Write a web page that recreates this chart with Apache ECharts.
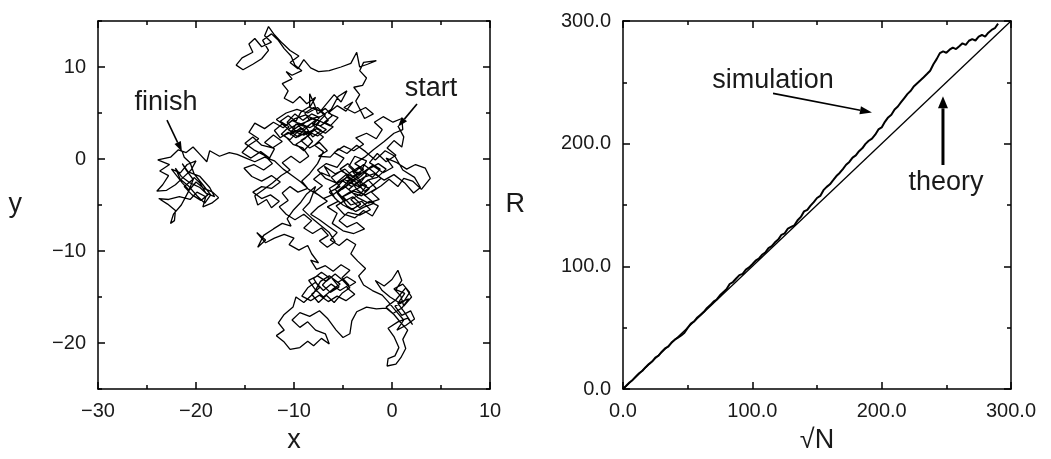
<!DOCTYPE html>
<html>
<head>
<meta charset="utf-8">
<script src="https://cdn.jsdelivr.net/npm/echarts@6/dist/echarts.min.js"></script>
<style>
  html, body { margin: 0; padding: 0; background: #fff; }
  #chart { width: 1051px; height: 459px; }
</style>
</head>
<body>
<div id="chart"></div>
<script>
// left panel: the walk
const walk = [
  // start, right-hand cluster
  [0.6,3.6],[1.2,2.4],[1.0,1.3],[0.2,2.0],[-0.5,1.2],[0.4,0.4],[-0.6,-0.3],[-1.5,0.6],[-2.3,-0.4],[-1.2,-1.1],[-2.0,-2.0],[-3.1,-1.2],[-2.6,-0.2],[-3.8,0.3],[-4.4,-0.8],[-3.5,-1.7],[-4.6,-2.4],[-3.4,-3.0],[-2.4,-2.3],[-1.6,-3.2],[-2.7,-3.9],[-3.9,-3.5],[-5.0,-4.1],[-4.2,-5.0],[-3.1,-4.6],[-2.2,-5.5],[-3.3,-6.1],[-4.5,-5.8],[-5.4,-6.7],[-4.6,-7.4],[-3.6,-6.9],[-2.8,-7.6],[-3.9,-8.1],[-5.0,-7.8],[-6.1,-7.0],[-5.6,-5.9],[-6.6,-5.2],[-5.5,-4.6],[-6.4,-3.6],[-5.3,-3.0],[-6.2,-2.0],[-5.2,-1.3],[-4.1,-1.9],[-3.0,-1.5],
  [-4.0,-1.4],[-3.2,-2.4],[-4.1,-3.0],[-5.0,-2.4],[-4.3,-1.5],[-3.4,-0.9],[-2.6,-1.7],[-3.3,-2.7],[-2.3,-3.2],[-3.1,-4.0],[-4.0,-3.7],[-4.8,-3.0],[-5.6,-3.7],[-4.9,-4.6],[-4.0,-4.1],[-3.2,-4.9],[-4.1,-5.5],[-5.0,-5.0],[-5.8,-4.3],[-6.4,-3.2],[-5.5,-2.6],[-4.6,-2.0],[-3.7,-2.5],[-2.8,-3.5],[-1.9,-2.8],[-1.1,-2.1],[-2.0,-1.3],[-2.9,-0.6],[-3.7,-1.3],[-4.5,-0.5],[-5.3,-1.1],[-4.5,-1.8],[-3.6,-3.3],[-2.6,-4.1],[-1.8,-4.8],[-2.8,-5.2],[-3.7,-5.7],[-4.6,-5.1],[-5.2,-4.2],[-4.3,-3.6],[-3.3,-3.1],[-2.5,-2.3],[-1.5,-2.0],[-0.6,-1.1],[-1.4,-0.5],[-2.4,-1.1],[-3.2,-1.9],[-4.2,-2.6],[-5.1,-3.3],[-4.1,-2.4],[-3.0,-1.5],
  [-2.0,-0.7],[-0.9,-1.5],[0.1,-0.9],[-0.6,0.1],[0.5,-0.4],[1.5,-1.1],[2.4,-0.6],[3.4,-1.0],[3.9,-2.1],[3.0,-3.3],[2.1,-2.4],[1.2,-2.1],[0.6,-3.0],[-0.3,-2.2],[-1.1,-2.9],[-2.1,-3.6],[-1.3,-4.4],[-2.4,-4.8],[-3.5,-4.2],[-4.4,-3.3],[-3.6,-2.6],[-4.7,-1.7],[-5.7,-2.6],[-6.8,-2.1],[-7.6,-1.2],[-6.7,-0.5],[-5.6,-0.9],[-4.9,0.1],[-5.9,0.7],[-4.9,1.4],[-3.9,0.9],[-2.9,1.6],[-3.7,2.3],[-2.6,2.8],[-1.6,2.2],[-1.0,3.2],[-1.8,4.0],[-0.9,4.6],[0.1,4.0],[1.0,4.4],[1.1,3.2],[0.2,2.8],[-0.8,1.9],[-1.9,1.0],[-2.8,0.2],[-3.8,-0.5],[-2.9,-1.1],[-3.9,-1.9],[-4.9,-2.9],[-5.9,-3.8],[-7.0,-4.3],[-7.9,-3.6],[-7.1,-2.9],[-8.0,-2.2],[-7.2,-1.5],[-6.3,-1.9],[-6.9,-0.8],
  [-5.8,-1.6],[-4.8,-1.1],[-3.7,-2.2],[-2.6,-2.9],[-3.2,-3.8],[-4.2,-4.4],[-3.3,-5.3],[-2.3,-4.6],[-1.4,-5.1],[-2.0,-6.2],[-2.9,-5.6],[-3.8,-6.4],[-4.9,-6.0],[-5.7,-5.1],[-4.8,-4.5],[-5.8,-3.3],[-4.9,-2.2],[-3.9,-2.8],[-2.9,-2.0],[-1.8,-1.6],[-0.8,-2.3],[0.2,-1.7],[1.3,-2.6],[2.2,-3.7],[2.9,-3.1],[2.3,-2.0],[1.1,-1.2],[0.3,0.3],[-0.7,0.9],[-1.7,-0.1],[-2.7,0.8],[-3.6,1.5],[-4.6,0.6],[-5.5,1.1],[-6.3,0.2],
  // central cluster
  [-7.5,0.3],[-6.6,0.9],[-7.4,1.8],[-8.4,1.2],[-9.3,2.0],[-8.3,2.7],[-9.4,3.3],[-10.4,2.6],[-9.8,3.8],[-8.7,3.5],[-7.8,4.2],[-8.8,4.8],[-9.9,4.4],[-10.9,3.6],[-11.8,4.3],[-10.8,5.0],[-9.7,5.4],[-8.6,5.0],[-7.6,5.6],[-6.8,4.8],[-7.7,3.8],[-6.7,3.2],[-7.6,2.5],[-8.6,3.0],[-9.6,2.4],[-10.6,3.2],[-9.5,3.9],[-8.4,3.4],[-7.4,4.0],
  [-8.2,3.0],[-8.9,2.2],[-9.8,1.6],[-9.0,0.9],[-8.1,1.9],[-8.9,2.9],[-9.9,3.1],[-10.7,4.0],[-9.9,4.9],[-9.1,4.2],[-8.2,4.9],[-7.4,4.5],[-8.1,3.7],[-7.2,3.1],[-8.1,2.4],[-8.8,3.5],[-9.7,2.9],[-10.4,2.1],[-11.3,2.7],[-10.5,3.5],[-11.4,4.1],[-10.6,4.7],[-9.8,4.1],[-9.3,5.1],[-8.4,5.7],[-8.4,7.1],[-7.9,5.9],[-7.6,4.9],[-6.8,5.5],[-6.1,4.7],[-6.9,4.0],[-6.0,3.5],[-6.8,2.8],[-7.7,3.3],[-8.5,2.7],[-9.5,3.6],[-10.3,3.0],[-11.2,3.8],[-12.0,3.1],[-11.4,2.3],[-10.6,2.9],[-9.8,2.3],[-9.0,3.1],[-8.2,3.9],[-7.3,3.6],[-6.5,4.2],[-7.2,5.1],[-8.0,5.6],[-8.9,5.0],[-8.4,4.2],[-9.3,3.8],[-8.0,4.4],[-6.9,3.9],[-6.3,3.6],
  [-5.5,4.5],[-6.5,5.0],[-5.6,5.8],[-4.7,5.2],[-4.0,6.2],[-4.9,5.6],[-3.8,5.0],[-2.7,5.6],[-1.9,4.9],[-2.8,4.4],[-3.7,6.3],
  // up to the top
  [-3.3,7.0],[-3.9,7.8],[-3.0,8.0],[-2.6,8.8],[-3.3,9.6],[-2.9,10.5],[-1.6,10.7],[-2.5,10.3],[-3.3,10.0],[-3.6,11.6],[-4.2,10.4],[-5.2,10.0],[-6.4,9.6],[-7.5,9.5],[-8.3,9.9],[-9.0,10.8],[-9.6,9.8],[-10.4,10.5],[-9.5,11.2],[-10.4,11.8],[-11.2,12.6],[-12.0,13.5],[-12.6,14.4],[-13.0,13.4],[-12.3,12.7],[-13.3,12.2],[-14.0,13.1],[-14.6,12.5],[-14.2,11.6],[-15.3,11.0],[-15.9,10.2],[-15.2,9.7],[-14.2,10.3],[-13.3,10.9],[-12.6,11.8],[-13.2,12.9],[-12.3,13.6],[-11.6,12.9],[-11.0,12.0],[-10.3,11.2],[-9.9,10.2],[-9.2,9.6],[-10.2,9.1],[-10.8,9.5],[-10.2,8.7],[-11.2,8.2],[-10.6,7.4],[-11.0,6.6],[-10.1,6.1],[-9.4,6.8],[-8.7,6.0],[-7.8,6.7],[-8.4,5.6],[-7.3,5.2],[-6.6,6.1],[-5.9,7.0],[-5.2,6.2],[-4.6,7.4],[-5.5,6.8],[-6.2,5.4],
  // middle and left-middle
  [-7.3,4.6],[-8.3,4.4],[-9.2,3.7],[-10.2,4.2],[-11.1,3.4],[-12.1,4.0],[-13.0,3.3],[-14.0,3.9],[-14.6,2.9],[-13.6,2.2],[-14.6,1.5],[-15.3,0.7],[-14.4,0.1],[-13.4,0.8],[-12.5,0.1],[-12.0,1.1],[-13.0,1.8],[-12.1,2.6],[-11.2,1.9],[-12.2,1.2],[-13.3,1.5],[-14.2,2.4],[-15.0,1.7],[-14.1,1.0],[-13.0,0.4],[-12.2,-0.5],[-13.1,-1.2],[-14.1,-0.6],[-15.1,-1.0],[-14.3,-1.9],[-13.3,-2.4],[-12.3,-1.8],[-11.4,-2.5],[-12.3,-3.2],[-13.3,-3.0],[-14.2,-3.6],[-13.3,-4.3],[-12.4,-3.9],[-11.5,-4.6],[-12.3,-5.3],[-12.8,-4.4],[-13.7,-5.0],[-14.0,-4.0],[-13.2,-3.4],[-12.2,-2.6],[-11.3,-1.8],[-10.4,-1.2],[-11.2,-0.4],[-10.3,0.3],[-9.4,-0.4],[-8.5,0.3],[-9.1,1.2],[-10.1,1.6],[-11.0,2.6],[-10.0,3.0],[-9.0,2.6],[-8.0,3.2],[-7.0,2.4],[-7.9,1.5],[-7.0,0.8],[-7.6,-0.5],
  // heading down
  [-8.4,-1.6],[-9.2,-2.4],[-8.6,-3.2],[-9.6,-3.6],[-10.4,-3.0],[-11.2,-3.7],[-10.6,-4.5],[-11.5,-5.2],[-10.8,-6.0],[-9.9,-6.6],[-9.0,-6.0],[-8.2,-6.7],[-9.0,-7.5],[-8.1,-8.1],[-7.2,-7.5],[-6.5,-8.3],[-7.4,-8.9],[-6.6,-9.6],[-5.8,-9.0],[-6.4,-8.0],[-7.3,-7.2],[-8.2,-6.4],[-9.1,-5.5],[-8.4,-4.7],
  [-7.8,-3.0],[-8.7,-3.8],[-9.3,-4.7],[-10.1,-5.6],[-10.7,-6.5],[-10.3,-7.3],[-11.2,-7.0],[-12.1,-7.6],[-13.1,-8.3],[-13.7,-9.6],[-12.9,-8.8],[-13.8,-8.0],[-12.9,-9.1],[-12.0,-8.6],[-11.0,-8.2],[-10.0,-8.6],[-10.5,-9.3],[-9.5,-9.9],[-8.6,-9.4],[-8.2,-10.3],[-7.5,-11.3],[-8.3,-11.0],[-7.7,-12.0],[-6.8,-11.6],[-6.0,-12.2],[-5.2,-11.5],[-4.3,-12.1],[-5.1,-12.9],[-4.4,-13.7],[-5.3,-14.3],[-6.2,-13.6],[-7.0,-14.3],[-7.8,-13.4],[-8.6,-14.0],[-9.2,-14.9],[-8.3,-15.4],[-7.4,-14.8],[-6.5,-15.5],[-5.6,-14.9],[-4.7,-15.4],[-3.8,-14.7],[-4.6,-14.0],[-3.7,-13.4],[-4.6,-12.8],[-5.5,-13.4],
  [-6.1,-13.0],[-5.4,-13.9],[-6.3,-14.5],[-7.1,-13.7],[-6.4,-12.9],[-7.2,-12.3],[-8.0,-13.0],[-7.4,-14.0],[-8.2,-14.7],[-7.5,-15.6],[-6.7,-14.8],[-5.9,-15.6],[-5.1,-14.6],[-4.3,-14.0],[-5.0,-13.2],[-5.8,-12.5],[-6.7,-13.3],[-7.6,-12.7],[-8.5,-13.2],[-7.9,-14.1],[-7.0,-15.0],[-6.1,-14.2],[-5.3,-13.6],
  [-6.4,-12.7],[-7.3,-13.3],[-8.0,-14.6],[-9.0,-15.6],[-9.8,-15.0],[-10.1,-16.1],[-11.0,-16.9],[-11.6,-17.8],[-11.0,-18.6],[-11.8,-19.2],[-11.0,-19.9],[-10.4,-20.7],[-9.4,-20.5],[-8.6,-19.8],[-8.0,-20.3],[-7.2,-19.5],[-6.4,-20.1],[-6.8,-19.0],[-7.8,-18.6],[-8.6,-17.7],[-9.4,-18.3],[-10.2,-17.5],[-9.4,-16.7],[-8.4,-17.1],[-7.4,-16.5],[-6.6,-17.3],[-5.7,-18.6],[-5.0,-19.4],[-4.3,-19.0],[-4.1,-17.6],[-3.6,-16.6],[-2.6,-16.1],[-1.6,-16.3],[-0.6,-16.2],[0.2,-16.9],[0.9,-17.8],[1.6,-18.6],[1.1,-19.6],[1.4,-20.6],[0.9,-21.6],[0.4,-22.3],[-0.5,-22.5],[-0.4,-21.7],[0.3,-21.4],
  // lower right
  [0.7,-20.5],[0.2,-19.3],[-0.4,-18.4],[0.6,-17.7],[1.6,-17.3],[2.1,-18.0],[1.3,-16.7],[0.6,-15.7],[1.3,-14.6],[0.4,-14.2],[1.0,-13.2],[0.6,-12.1],[0.0,-13.1],[-0.8,-13.8],[-1.7,-13.2],[-1.0,-14.3],[-0.2,-15.0],[0.7,-15.6],[1.7,-15.2],[1.0,-16.2],[0.1,-16.8],[-0.6,-16.1],[0.4,-15.3],[1.4,-14.0],[2.0,-15.0],[1.2,-16.0],
  [0.9,-14.9],[0.2,-14.1],[1.1,-13.6],[1.8,-14.5],[1.2,-15.5],[0.3,-16.0],[1.0,-17.0],[1.9,-16.5],[2.3,-17.4],[1.4,-18.1],[0.5,-18.6],[1.2,-17.5],[0.3,-16.4],[-0.4,-15.5],
  // back to the centre and off to the left
  [-1.0,-14.8],[-2.0,-14.3],[-2.9,-13.7],[-3.4,-12.7],[-2.7,-11.9],[-3.5,-11.1],[-4.2,-10.3],[-3.7,-9.3],[-4.6,-8.7],[-5.4,-9.4],[-6.3,-8.8],[-5.6,-8.0],[-6.5,-7.3],[-7.4,-6.6],[-8.3,-6.0],[-7.5,-5.2],[-6.6,-4.6],[-7.5,-3.9],[-8.5,-3.3],[-9.3,-2.5],[-10.2,-1.8],[-11.1,-1.1],[-12.0,-0.2],[-13.0,0.2],[-14.0,-0.3],[-14.9,0.1],[-15.8,0.5],
  // finish cluster
  [-16.6,0.7],[-17.6,0.3],[-18.6,0.9],[-18.9,-0.3],[-19.6,0.5],[-20.3,1.3],[-21.0,0.7],[-21.8,1.0],[-22.6,0.2],[-23.9,-0.1],[-22.7,-0.6],[-23.7,-1.3],[-22.8,-1.8],[-23.4,-2.8],[-24.0,-3.5],[-23.0,-3.4],[-22.1,-2.8],[-21.3,-2.0],[-20.5,-1.2],[-20.0,-0.2],[-20.9,-0.6],[-21.6,-1.5],[-22.5,-1.1],[-21.4,-2.6],[-20.7,-3.4],[-20.0,-2.5],[-19.2,-3.2],[-18.3,-3.6],[-17.7,-4.2],[-18.4,-4.8],[-19.3,-5.2],[-19.0,-4.1],[-19.9,-3.6],[-20.6,-4.4],[-21.7,-4.1],[-22.8,-4.4],[-23.8,-4.3],[-22.9,-4.9],[-22.1,-5.6],[-22.2,-6.7],[-22.6,-7.0],[-22.3,-6.0],[-21.5,-5.0],[-20.8,-3.6],[-20.2,-2.0],[-19.6,-2.6],[-19.0,-3.7],[-18.1,-4.1],[-18.6,-3.1],[-19.6,-1.9],[-20.8,-1.4],[-21.4,-0.5],
  [-21.0,-1.2],[-20.3,-2.2],[-21.2,-3.0],[-20.4,-3.9],[-19.5,-4.5],[-18.8,-3.9],[-19.6,-3.1],[-20.6,-2.6],[-21.5,-1.9],[-22.1,-1.0],[-21.6,-2.2],[-20.8,-2.9],[-19.9,-4.0],[-19.1,-4.8],[-18.5,-3.9],[-19.3,-2.8],[-20.2,-1.6],[-20.6,-0.4],[-21.2,0.2],[-21.4,0.8]
]

// right panel
const simN = [0,2.5,5,7.5,10,12.5,15,17.5,20,22.5,25,27.5,30,32.5,35,37.5,40,42.5,45,47.5,50,52.5,55,57.5,60,62.5,65,67.5,70,72.5,75,77.5,80,82.5,85,87.5,90,92.5,95,97.5,100,102.5,105,107.5,110,112.5,115,117.5,120,122.5,125,127.5,130,132.5,135,137.5,140,142.5,145,147.5,150,152.5,155,157.5,160,162.5,165,167.5,170,172.5,175,177.5,180,182.5,185,187.5,190,192.5,195,197.5,200,202.5,205,207.5,210,212.5,215,217.5,220,222.5,225,227.5,230,232.5,235,237.5,240,242.5,245,247.5,250,252.5,255,257.5,260,262.5,265,267.5,270,272.5,275,277.5,280,282.5,285,287.5,290]
const simR = [0,2.6,5.3,7.4,10.2,12.8,14.9,17.8,20.3,22.4,25.6,27.2,30.4,33.1,34.6,37.9,40.2,41.8,43.6,45.9,49.8,53.4,55.1,58.3,60.6,62.9,66.1,68.4,71.2,73.0,76.4,78.9,81.3,85.6,87.2,90.1,92.8,93.9,97.3,99.1,101.8,104.6,106.2,109.4,111.3,114.9,116.4,119.6,121.8,125.7,126.9,130.8,132.1,133.4,137.6,140.3,144.8,146.1,149.5,152.3,155.7,157.4,162.1,164.8,166.9,170.2,173.6,176.1,179.3,182.8,185.1,188.6,190.4,193.9,196.2,199.8,202.4,204.1,207.3,211.6,213.2,217.8,221.4,223.6,227.9,230.3,233.8,237.2,240.6,243.1,246.9,249.3,251.7,254.2,256.8,259.5,264.7,268.9,273.8,275.2,274.1,276.6,278.3,277.1,279.4,281.8,280.6,283.9,285.2,284.1,287.3,288.6,287.2,290.5,292.7,294.1,297.8]
const theoryN = [0, 300]
const theoryR = [0, 300]

const majorY = [-20, -10, 0, 10]
const minorY = [-25, -15, -5, 5, 15]

const font = 'Liberation Sans'
const ink = '#1a1a1a'

const chart = echarts.init(document.getElementById('chart'))

const lineStyle = { color: '#000', width: 1.5 }

// build one axis; mirrored axes on top/right only carry ticks
const axis = (grid, pos, min, max, extra) => Object.assign({
  type: 'value',
  gridIndex: grid,
  position: pos,
  min: min,
  max: max,
  splitLine: { show: false },
  axisLine: { show: true, onZero: false, lineStyle: lineStyle },
  axisTick: { show: true, inside: true, length: 7, lineStyle: lineStyle },
  axisLabel: { show: false },
  nameTextStyle: { fontFamily: font, fontSize: 27, color: ink }
}, extra)

const tickLabel = (fmt) => ({
  show: true, fontFamily: font, fontSize: 20, color: ink, margin: 12, formatter: fmt
})
const minus = (v) => String(v).replace('-', '\u2212')
const oneDec = (v) => v.toFixed(1)
const minor = { show: true, splitNumber: 2, length: 4, lineStyle: lineStyle }
const ticksAt = (vals, len) => ({ show: true, inside: true, length: len, lineStyle: lineStyle, customValues: vals })
const noLine = { show: false, onZero: false }

const option = {
  animation: false,
  backgroundColor: '#fff',
  grid: [
    { left: 98, top: 21, width: 392, height: 386 },
    { left: 623, top: 21, width: 388, height: 386 }
  ],
  xAxis: [
    axis(0, 'bottom', -30, 10, { interval: 10, minorTick: minor, axisLabel: tickLabel(minus),
      name: 'x', nameLocation: 'middle', nameGap: 38 }),
    axis(0, 'top', -30, 10, { interval: 10, minorTick: minor }),
    axis(1, 'bottom', 0, 300, { interval: 100, minorTick: minor, axisLabel: tickLabel(oneDec),
      name: '\u221AN', nameLocation: 'middle', nameGap: 38 }),
    axis(1, 'top', 0, 300, { interval: 100, minorTick: minor })
  ],
  yAxis: [
    axis(0, 'left', -25, 15, {
      axisTick: ticksAt(majorY, 7),
      axisLabel: Object.assign(tickLabel(minus), { customValues: majorY }),
      name: 'y', nameLocation: 'middle', nameRotate: 0, nameGap: 76 }),
    axis(0, 'right', -25, 15, { axisTick: ticksAt(majorY, 7) }),
    axis(0, 'left', -25, 15, { axisLine: noLine, axisTick: ticksAt(minorY, 4) }),
    axis(0, 'right', -25, 15, { axisLine: noLine, axisTick: ticksAt(minorY, 4) }),
    axis(1, 'left', 0, 300, { interval: 100, minorTick: minor, axisLabel: tickLabel(oneDec),
      name: 'R', nameLocation: 'middle', nameRotate: 0, nameGap: 98 }),
    axis(1, 'right', 0, 300, { interval: 100, minorTick: minor })
  ],
  series: [
    {
      type: 'line', xAxisIndex: 0, yAxisIndex: 0,
      data: walk, showSymbol: false,
      lineStyle: { color: '#000', width: 1.3 }
    },
    {
      type: 'line', xAxisIndex: 2, yAxisIndex: 4,
      data: theoryN.map((n, i) => [n, theoryR[i]]), showSymbol: false,
      lineStyle: { color: '#000', width: 1.3 }
    },
    {
      type: 'line', xAxisIndex: 2, yAxisIndex: 4,
      data: simN.map((n, i) => [n, simR[i]]), showSymbol: false,
      lineStyle: { color: '#000', width: 2 }
    }
  ]
}
chart.setOption(option)

// annotations, placed in data coordinates
const px = (grid, p) => chart.convertToPixel({ gridIndex: grid }, p)

const arrow = (grid, from, to, width, headLen, headW) => {
  const a = px(grid, from)
  const b = px(grid, to)
  const dx = b[0] - a[0], dy = b[1] - a[1]
  const len = Math.sqrt(dx * dx + dy * dy)
  const ux = dx / len, uy = dy / len
  const bx = b[0] - ux * headLen, by = b[1] - uy * headLen
  return [
    { type: 'line', shape: { x1: a[0], y1: a[1], x2: bx, y2: by },
      style: { stroke: '#000', lineWidth: width } },
    { type: 'polygon',
      shape: { points: [b, [bx - uy * headW / 2, by + ux * headW / 2], [bx + uy * headW / 2, by - ux * headW / 2]] },
      style: { fill: '#000' } }
  ]
}

const label = (grid, p, text) => {
  const q = px(grid, p)
  return { type: 'text', x: q[0], y: q[1],
    style: { text: text, fontFamily: font, fontSize: 27, fill: ink, align: 'center', verticalAlign: 'middle' } }
}

chart.setOption({
  graphic: [
    label(0, [-23.06, 6.09], 'finish'),
    ...arrow(0, [-22.96, 4.22], [-21.43, 0.8], 1.6, 10, 7),
    label(0, [3.98, 7.64], 'start'),
    ...arrow(0, [2.55, 5.98], [0.61, 3.5], 1.6, 10, 7),
    label(1, [116, 251.8], 'simulation'),
    ...arrow(1, [116, 241], [192.5, 225.4], 1.6, 12, 8),
    label(1, [249.7, 168.6], 'theory'),
    ...arrow(1, [247.4, 182.6], [247.4, 238.6], 3, 12, 10)
  ]
})
</script>
</body>
</html>
